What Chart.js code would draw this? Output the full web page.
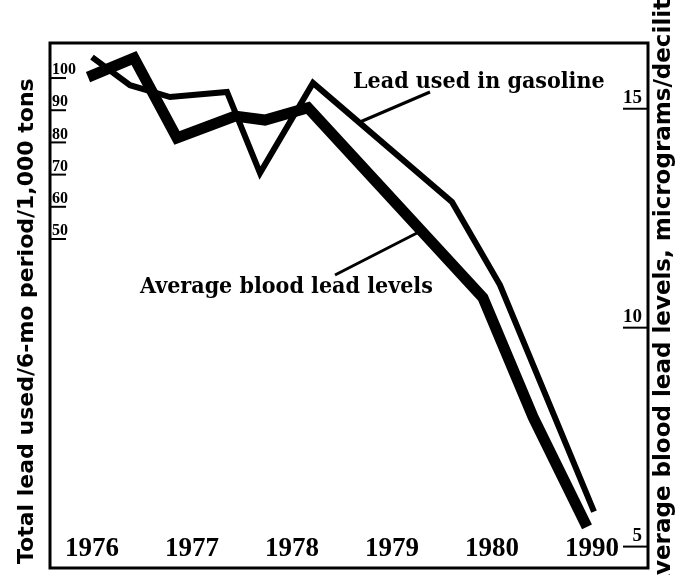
<!DOCTYPE html>
<html>
<head>
<meta charset="utf-8">
<script src="https://cdn.jsdelivr.net/npm/chart.js@4.4.1/dist/chart.umd.min.js"></script>
<style>
  html, body { margin: 0; padding: 0; background: #fff; }
</style>
</head>
<body>
<canvas id="chart" width="685" height="575"></canvas>
<script>
// x positions: 0 = 1976 ... 4 = 1980, 5 = 1990 (the axis jumps a decade at the end)
const xTickLabels = ['1976', '1977', '1978', '1979', '1980', '1990'];
const xTickValues = [0, 1, 2, 3, 4, 5];

const leftTicks = [100, 90, 80, 70, 60, 50];
const rightTicks = [15, 10, 5];

// lead used in gasoline, 1,000 tons per 6-month period (left axis)
const gasolineX = [0.00, 0.38, 0.78, 1.35, 1.68, 2.21, 3.60, 4.08, 5.02];
const gasolineY = [104.0, 95.3, 91.6, 93.2, 68.0, 96.0, 59.0, 33.2, -37.2];

// average blood lead levels, micrograms/deciliter (right axis)
const bloodX = [-0.04, 0.42, 0.85, 1.43, 1.73, 2.16, 3.91, 4.41, 4.95];
const bloodY = [15.47, 15.91, 14.08, 14.58, 14.49, 14.77, 10.43, 7.71, 5.20];

const serif = '"Liberation Serif", "DejaVu Serif", serif';

// frame, underlined ticks, axis titles and the two labels with pointers
const decorations = {
    id: 'decorations',
    afterDraw(chart) {
        const {ctx, chartArea: a, scales} = chart;
        ctx.save();
        ctx.strokeStyle = '#000';
        ctx.fillStyle = '#000';
        ctx.lineWidth = 3;
        ctx.strokeRect(a.left, a.top, a.right - a.left, a.bottom - a.top);

        ctx.lineWidth = 2;
        leftTicks.forEach(v => {
            const y = scales.yLead.getPixelForValue(v) + 8;
            ctx.beginPath();
            ctx.moveTo(a.left, y);
            ctx.lineTo(a.left + 16, y);
            ctx.stroke();
        });
        rightTicks.forEach(v => {
            const y = scales.yBlood.getPixelForValue(v) + 11;
            ctx.beginPath();
            ctx.moveTo(a.right - 25, y);
            ctx.lineTo(a.right, y);
            ctx.stroke();
        });

        ctx.textBaseline = 'middle';
        ctx.textAlign = 'left';
        ctx.font = 'bold 22px "DejaVu Sans"';
        ctx.save();
        ctx.translate(27, 564);
        ctx.rotate(-Math.PI / 2);
        ctx.fillText('Total lead used/6-mo period/1,000 tons', 0, 0);
        ctx.restore();
        ctx.font = 'bold 23px "DejaVu Sans"';
        ctx.save();
        ctx.translate(664, 592);
        ctx.rotate(-Math.PI / 2);
        ctx.fillText('Average blood lead levels, micrograms/deciliter', 0, 0);
        ctx.restore();

        ctx.font = 'bold 23px "DejaVu Serif Condensed", "DejaVu Serif"';
        ctx.textBaseline = 'alphabetic';
        ctx.fillText('Lead used in gasoline', 353, 88);
        ctx.fillText('Average blood lead levels', 140, 293);

        ctx.lineWidth = 3;
        ctx.beginPath();
        ctx.moveTo(430, 92);
        ctx.lineTo(360, 122);
        ctx.moveTo(335, 275);
        ctx.lineTo(417, 233);
        ctx.stroke();
        ctx.restore();
    }
};

const zeroWidth = s => { s.width = 0; s.paddingTop = 0; s.paddingBottom = 0; };

new Chart(document.getElementById('chart'), {
    type: 'line',
    data: {
        datasets: [{
            label: 'Lead used in gasoline',
            data: gasolineX.map((x, i) => ({x: x, y: gasolineY[i]})),
            yAxisID: 'yLead',
            borderColor: '#000',
            borderWidth: 6
        }, {
            label: 'Average blood lead levels',
            data: bloodX.map((x, i) => ({x: x, y: bloodY[i]})),
            yAxisID: 'yBlood',
            borderColor: '#000',
            borderWidth: 11
        }]
    },
    options: {
        responsive: false,
        animation: false,
        layout: {
            padding: {left: 50, right: 37, top: 43, bottom: 7}
        },
        elements: {
            point: {radius: 0},
            line: {tension: 0, borderJoinStyle: 'miter', borderCapStyle: 'butt'}
        },
        plugins: {
            legend: {display: false},
            tooltip: {enabled: false}
        },
        scales: {
            x: {
                type: 'linear',
                min: -0.42,
                max: 5.56,
                afterBuildTicks: s => { s.ticks = xTickValues.map(v => ({value: v})); },
                afterFit: s => { s.height = 0; s.paddingLeft = 0; s.paddingRight = 0; },
                grid: {display: false, drawTicks: false},
                border: {display: false},
                ticks: {
                    mirror: true,
                    padding: 3,
                    maxRotation: 0,
                    autoSkip: false,
                    color: '#000',
                    font: {family: serif, size: 27, weight: 'bold'},
                    callback: (v, i) => xTickLabels[i]
                }
            },
            yLead: {
                type: 'linear',
                position: 'left',
                min: -54.7,
                max: 108.4,
                afterBuildTicks: s => { s.ticks = leftTicks.map(v => ({value: v})); },
                afterFit: zeroWidth,
                grid: {display: false, drawTicks: false},
                border: {display: false},
                ticks: {
                    mirror: true,
                    padding: 2,
                    color: '#000',
                    font: {family: serif, size: 16, weight: 'bold'}
                }
            },
            yBlood: {
                type: 'linear',
                position: 'right',
                min: 4.26,
                max: 16.25,
                afterBuildTicks: s => { s.ticks = rightTicks.map(v => ({value: v})); },
                afterFit: zeroWidth,
                grid: {display: false, drawTicks: false},
                border: {display: false},
                ticks: {
                    mirror: true,
                    padding: -6,
                    color: '#000',
                    font: {family: serif, size: 19, weight: 'bold'}
                }
            }
        }
    },
    plugins: [decorations]
});
</script>
</body>
</html>
